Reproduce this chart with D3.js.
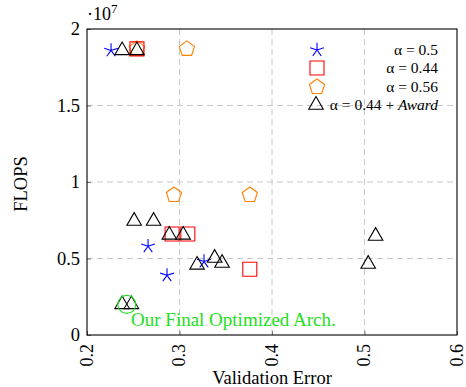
<!DOCTYPE html>
<html>
<head>
<meta charset="utf-8">
<script src="https://cdn.jsdelivr.net/npm/d3@7"></script>
<style>
  body { margin: 0; background: #fff; }
</style>
</head>
<body>
<div id="vis"></div>
<script>
const W = 466, H = 387;
const margin = { top: 29, right: 9, bottom: 52, left: 87 };
const width = W - margin.left - margin.right;
const height = H - margin.top - margin.bottom;

// alpha = 0.5 (blue stars)
const starX = [0.226, 0.266, 0.2865, 0.3265];
const starY = [1.86e7, 0.58e7, 0.39e7, 0.48e7];

// alpha = 0.44 (red squares)
const squareX = [0.254, 0.292, 0.309, 0.376];
const squareY = [1.87e7, 0.66e7, 0.66e7, 0.43e7];

// alpha = 0.56 (orange pentagons)
const pentX = [0.254, 0.308, 0.294, 0.376];
const pentY = [1.87e7, 1.87e7, 0.915e7, 0.915e7];

// alpha = 0.44 + Award (black triangles)
const triX = [0.238, 0.254, 0.251, 0.272, 0.289, 0.304, 0.319, 0.338, 0.346, 0.238, 0.248, 0.512, 0.504];
const triY = [1.86e7, 1.86e7, 0.745e7, 0.745e7, 0.654e7, 0.654e7, 0.458e7, 0.503e7, 0.47e7, 0.2e7, 0.2e7, 0.647e7, 0.464e7];

const xTicks = [0.2, 0.3, 0.4, 0.5, 0.6];
const yTicks = [0, 0.5e7, 1e7, 1.5e7, 2e7];
const yTickLabels = ["0", "0.5", "1", "1.5", "2"];

const legendLabels = ["α = 0.5", "α = 0.44", "α = 0.56", "α = 0.44 + Award"];

const finalArch = { x: 0.243, y: 0.2e7 };
const finalLabel = { x: 0.2476, y: 0.062e7, text: "Our Final Optimized Arch." };

const x = d3.scaleLinear().domain([0.2, 0.6]).range([0, width]);
const y = d3.scaleLinear().domain([0, 2e7]).range([height, 0]);

const svg = d3.select("#vis").append("svg")
  .attr("width", W).attr("height", H);
const g = svg.append("g").attr("transform", `translate(${margin.left},${margin.top})`);

// grid
g.selectAll(".gx").data(xTicks.slice(1, -1)).enter().append("line")
  .attr("x1", d => x(d)).attr("x2", d => x(d))
  .attr("y1", 0).attr("y2", height)
  .attr("stroke", "#c8c8c8").attr("stroke-dasharray", "6,4");
g.selectAll(".gy").data(yTicks.slice(1, -1)).enter().append("line")
  .attr("y1", d => y(d)).attr("y2", d => y(d))
  .attr("x1", 0).attr("x2", width)
  .attr("stroke", "#c8c8c8").attr("stroke-dasharray", "6,4");

// axes (ticks inward)
const xAxis = g.append("g").attr("transform", `translate(0,${height})`)
  .call(d3.axisBottom(x).tickValues(xTicks).tickSize(-4).tickPadding(8).tickFormat(d3.format(".1f")));
xAxis.select(".domain").remove();
xAxis.selectAll(".tick line").attr("stroke", "#777");
xAxis.selectAll(".tick text")
  .attr("transform", "rotate(-90)")
  .attr("x", -9).attr("y", 0).attr("dy", "0.28em")
  .style("text-anchor", "end")
  .style("font-size", "18px").attr("fill", "#000");

const yAxis = g.append("g")
  .call(d3.axisLeft(y).tickValues(yTicks).tickSize(-4).tickPadding(7).tickFormat((d, i) => yTickLabels[i]));
yAxis.select(".domain").remove();
yAxis.selectAll(".tick line").attr("stroke", "#777");
yAxis.selectAll(".tick text").style("font-size", "18.5px").attr("fill", "#000");

g.append("rect").attr("width", width).attr("height", height)
  .attr("fill", "none").attr("stroke", "#000").attr("stroke-width", 1.1);

// exponent
const expo = g.append("text").attr("x", 0).attr("y", -9).style("font-size", "18px");
expo.append("tspan").text("·10");
expo.append("tspan").attr("dy", -7).style("font-size", "13px").text("7");

// axis labels
svg.append("text").attr("x", margin.left + width / 2).attr("y", H - 3)
  .attr("text-anchor", "middle").style("font-size", "18.5px").text("Validation Error");
svg.append("text").attr("transform", `translate(27,${margin.top + height / 2 + 2}) rotate(-90)`)
  .attr("text-anchor", "middle").style("font-size", "18.5px").text("FLOPS");

// marker shapes
function starPath(r) {
  let p = "";
  for (let i = 0; i < 5; i++) {
    const a = (90 + i * 72) * Math.PI / 180;
    p += `M0,0L${(r * Math.cos(a)).toFixed(2)},${(-r * Math.sin(a)).toFixed(2)}`;
  }
  return p;
}
function polyPath(n, r, rot) {
  const pts = [];
  for (let i = 0; i < n; i++) {
    const a = (rot + i * 360 / n) * Math.PI / 180;
    pts.push([r * Math.cos(a), -r * Math.sin(a)]);
  }
  return "M" + pts.map(p => p[0].toFixed(2) + "," + p[1].toFixed(2)).join("L") + "Z";
}
const shapes = {
  star: { d: starPath(7.2), color: "#0000ff" },
  square: { d: "M-7,-7H7V7H-7Z", color: "#ff0000" },
  pent: { d: polyPath(5, 8, 90), color: "#ff8000" },
  tri: { d: polyPath(3, 8.4, 90), color: "#000000" }
};

function drawSeries(xs, ys, shape) {
  g.append("g").selectAll("path").data(xs.map((v, i) => [v, ys[i]])).enter()
    .append("path")
    .attr("transform", d => `translate(${x(d[0])},${y(d[1])})`)
    .attr("d", shapes[shape].d)
    .attr("fill", "none")
    .attr("stroke", shapes[shape].color)
    .attr("stroke-width", 1.1);
}
drawSeries(pentX, pentY, "pent");
drawSeries(squareX, squareY, "square");
drawSeries(starX, starY, "star");
drawSeries(triX, triY, "tri");

// highlight
g.append("circle").attr("cx", x(finalArch.x)).attr("cy", y(finalArch.y)).attr("r", 9)
  .attr("fill", "none").attr("stroke", "#22e022").attr("stroke-width", 1.1);
g.append("text").attr("x", x(finalLabel.x)).attr("y", y(finalLabel.y))
  .style("font-size", "19px").attr("fill", "#22e022").text(finalLabel.text);

// legend
const legendShapes = ["star", "square", "pent", "tri"];
const legendY = [50, 68, 87, 105];
const lg = svg.append("g");
legendLabels.forEach((t, i) => {
  const mx = i === 3 ? 316 : 317;
  lg.append("path").attr("transform", `translate(${mx},${legendY[i]})`)
    .attr("d", shapes[legendShapes[i]].d).attr("fill", "none")
    .attr("stroke", shapes[legendShapes[i]].color).attr("stroke-width", 1.1);
  const tx = lg.append("text").attr("x", 438).attr("y", legendY[i] + 5)
    .attr("text-anchor", "end").style("font-size", "15.5px");
  if (i === 3) {
    tx.append("tspan").text("α = 0.44 + ");
    tx.append("tspan").style("font-style", "italic").text("Award");
  } else {
    tx.text(t);
  }
});

svg.selectAll("text").style("font-family", "'Liberation Serif'");
</script>
</body>
</html>
